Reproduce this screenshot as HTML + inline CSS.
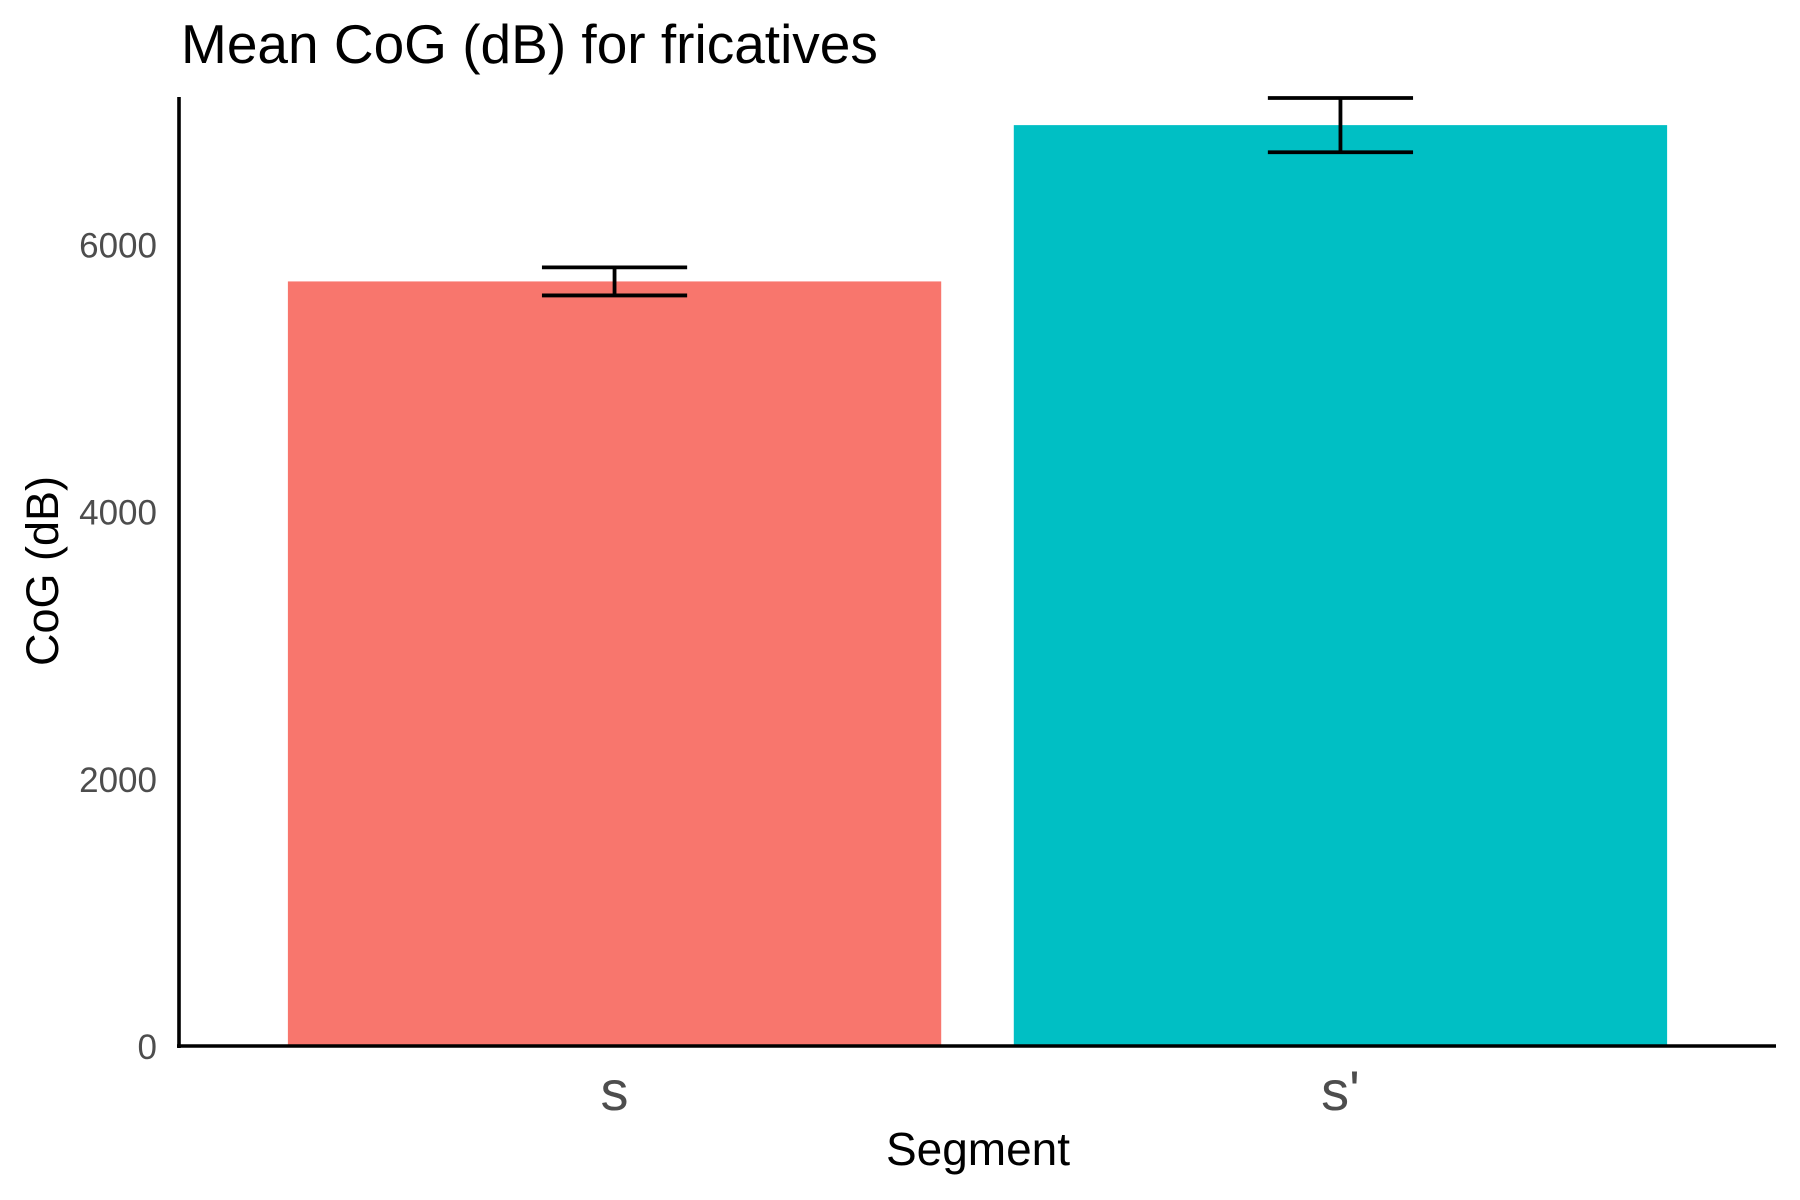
<!DOCTYPE html>
<html><head><meta charset="utf-8"><style>
html,body{margin:0;padding:0;background:#fff;}
svg{display:block;font-family:"Liberation Sans",Arial,sans-serif;}
</style></head><body>
<svg id="chart" width="1800" height="1200" viewBox="0 0 1800 1200">
<text x="181" y="63" font-size="55" fill="#000">Mean CoG (dB) for fricatives</text>
<text transform="translate(58,571) rotate(-90)" text-anchor="middle" font-size="45" fill="#000">CoG (dB)</text>
<text x="978" y="1165" text-anchor="middle" font-size="46" fill="#000">Segment</text>
<g id="bars"></g><g id="errs"></g><g id="yticks"></g><g id="xticks"></g>
<line x1="179" y1="97" x2="179" y2="1048" stroke="#000" stroke-width="3.6"/>
<line x1="177" y1="1046" x2="1776" y2="1046" stroke="#000" stroke-width="3.6"/>
</svg>
<script>
const categories = ["s", "s'"];
const means = [5723, 6893];
const errors = [105, 203];
const colors = ["#F8766D", "#00BFC4"];
const yTicks = [0, 2000, 4000, 6000];
const NS = "http://www.w3.org/2000/svg";
const px0 = 179, px1 = 1776, py0 = 1046, py1 = 98;
const yMax = Math.max(...means.map((m, i) => m + errors[i]));
function y(v) { return py0 - v / yMax * (py0 - py1); }
const unit = (px1 - px0) / (categories.length - 1 + 1.2);
function x(i) { return px0 + (i + 0.6) * unit; }
function mk(tag, attrs, parent) {
  const e = document.createElementNS(NS, tag);
  for (const k in attrs) e.setAttribute(k, attrs[k]);
  parent.appendChild(e);
  return e;
}
const gb = document.getElementById('bars'), ge = document.getElementById('errs');
const gy = document.getElementById('yticks'), gx = document.getElementById('xticks');
categories.forEach((c, i) => {
  const bw = 0.9 * unit, cx = x(i);
  const r = mk('rect', {x: cx - bw / 2, y: y(means[i]), width: bw, height: py0 - y(means[i]), fill: colors[i]}, gb);
  
  
  const ew = 0.2 * unit, yt = y(means[i] + errors[i]), yb = y(means[i] - errors[i]);
  const p = mk('path', {d: `M${cx - ew / 2},${yt}H${cx + ew / 2}M${cx},${yt}V${yb}M${cx - ew / 2},${yb}H${cx + ew / 2}`, stroke: '#000', 'stroke-width': 3.8, fill: 'none'}, ge);
  
  
  const t = mk('text', {x: cx, y: 1110, 'text-anchor': 'middle', 'font-size': 56, fill: '#4d4d4d'}, gx);
  t.textContent = c;
  
  
});
yTicks.forEach(v => {
  const t = mk('text', {x: 157, y: y(v) + 13, 'text-anchor': 'end', 'font-size': 35, fill: '#4d4d4d'}, gy);
  t.textContent = v;
  
  
});
</script>
</body></html>
